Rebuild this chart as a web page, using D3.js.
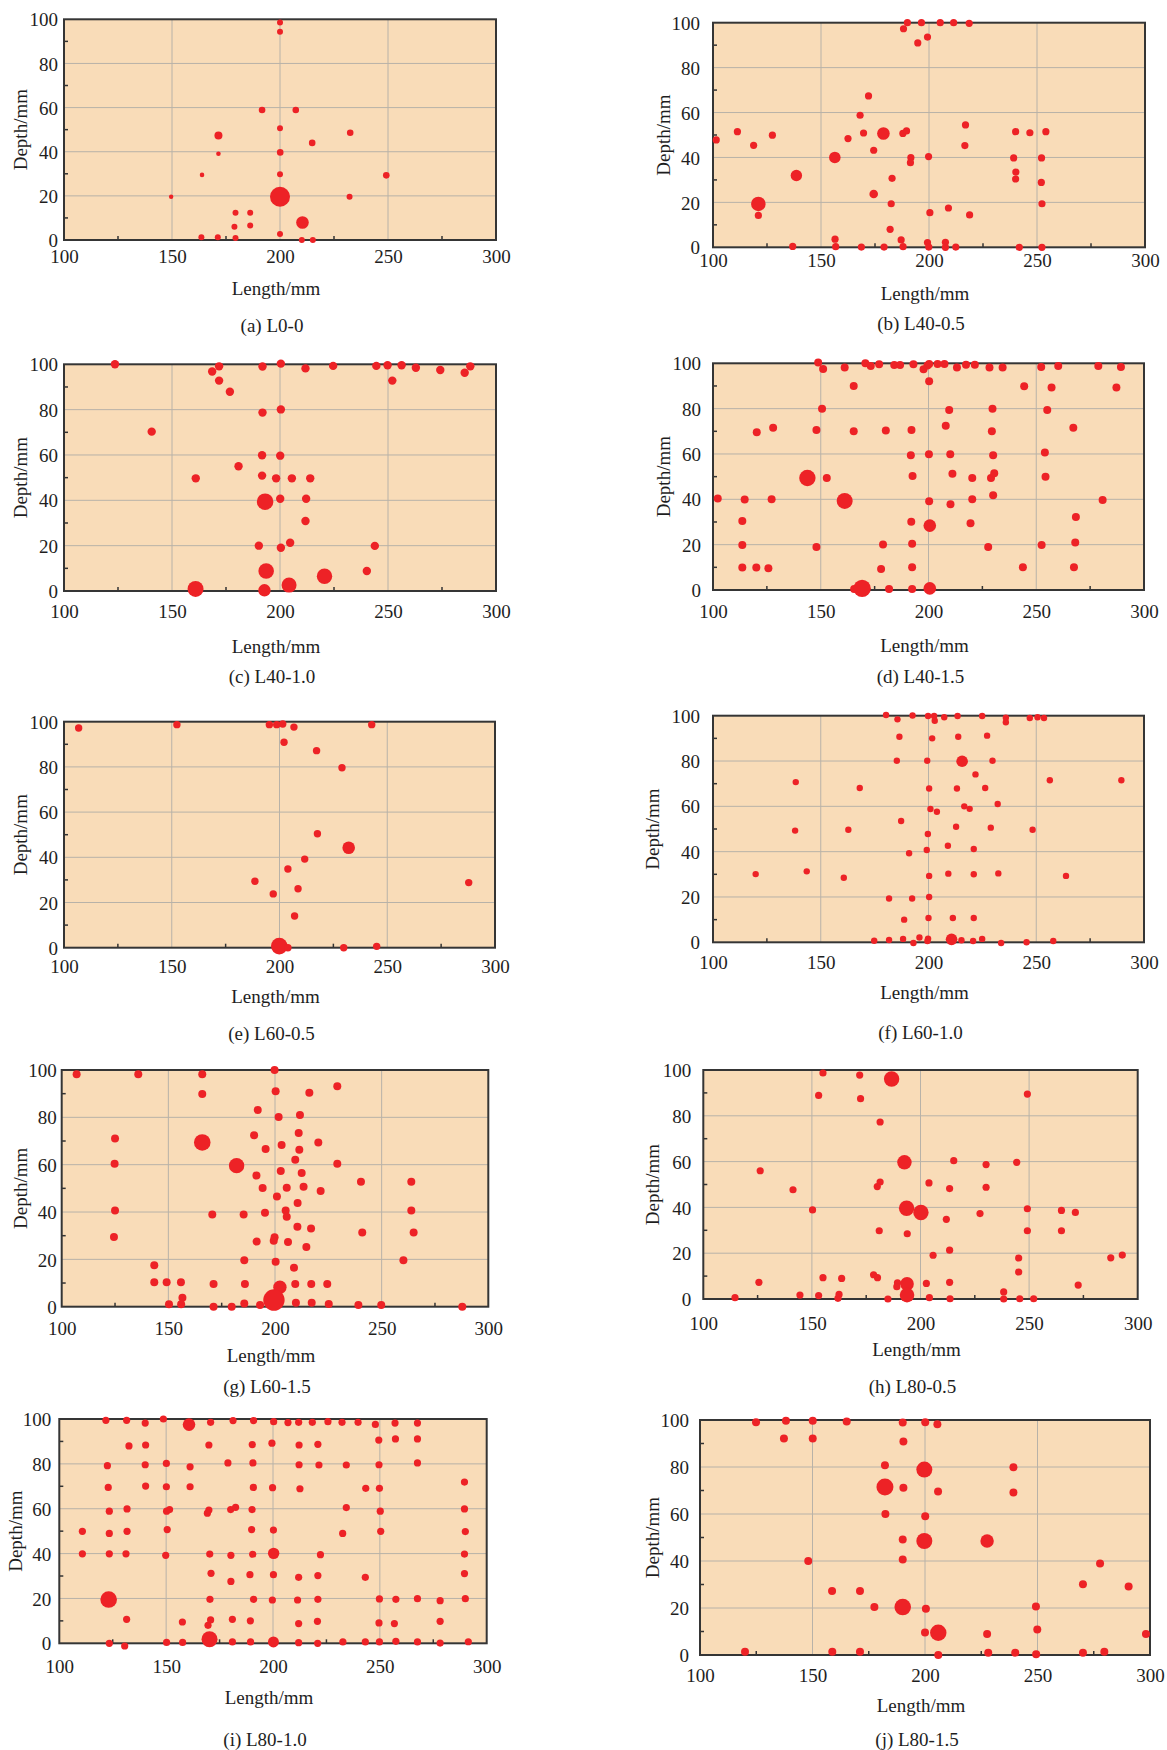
<!DOCTYPE html>
<html>
<head>
<meta charset="utf-8">
<script src="https://cdn.jsdelivr.net/npm/d3@7"></script>
<style>
  body { margin: 0; background: #fff; }
  svg { display: block; }
  text { font-family: "Liberation Serif", "Times New Roman", serif; fill: #1e1e1e; }
</style>
</head>
<body>
<div id="graf"></div>
<script>
const xTicks = [100, 150, 200, 250, 300]
const yTicks = [0, 20, 40, 60, 80, 100]
const xMinor = [125, 175, 225, 275]
const yMinor = [10, 30, 50, 70, 90]
const captions = ["(a) L0-0", "(b) L40-0.5", "(c) L40-1.0", "(d) L40-1.5", "(e) L60-0.5",
  "(f) L60-1.0", "(g) L60-1.5", "(h) L80-0.5", "(i) L80-1.0", "(j) L80-1.5"]

// [length, depth, size] — size omitted = small defect
const ptsA = [[200,98.5],[200,94.4],[191.7,58.9,3.3],[207.3,58.9,3.3],[200,50.6],[171.5,47.4,4],[232.5,48.6,3.3],[214.9,44,3.3],[171.5,39.1,2.3],[200.1,39.7,3.3],[163.9,29.5,2.3],[200,29.8],[249.2,29.3,3.3],[149.6,19.6,2.2],[200,19.6,10],[232.2,19.6],[179.4,12.4],[186.2,12.4],[178.9,6],[186.2,6.6],[210.4,7.9,6.3],[200,2.7],[163.6,1.2],[171.2,1.2],[179.4,0.9],[210.1,0],[215.2,0]]
const ptsB = [[101.5,47.8],[111.3,51.5],[118.8,45.4],[127.5,49.9],[121,19.3,7.3],[121,14.2],[138.6,32,5.7],[136.9,0.4],[156.4,40,5.8],[156.5,3.6],[156.8,0.3],[162.5,48.4],[168.1,58.8],[169.7,50.9],[172,67.4],[168.7,0.1],[178.9,50.7,6.3],[174.4,43.2],[174.4,23.7,4.3],[182.9,30.7],[182.5,19.4],[182,8],[179.2,0.1],[188.2,97.3],[190,100],[194.8,91],[196.5,100],[199.3,93.6],[205.2,100],[211.4,100],[218.6,99.7],[187.9,50.7],[189.6,51.8],[191.6,39.9],[191.4,37.7],[199.8,40.4],[187.1,3.3],[188,0.3],[200.4,15.4],[199.3,2.1],[199.9,0.1],[209,17.5],[207.6,2.2],[207.6,0],[212.4,0.1],[218.8,14.4],[216.9,54.5],[216.6,45.3],[239.2,39.8],[240.1,51.5],[240.2,33.5],[240.1,30.4],[241.8,0],[246.7,51],[252.1,39.8],[252,28.9],[252.3,19.4],[252.3,0],[254.1,51.5]]
const ptsC = [[123.6,100],[168.6,96.8],[171.8,99.1],[171.8,92.8],[176.8,87.9],[140.6,70.3],[161,49.7],[160.9,0.9,8],[180.8,55],[191.9,99],[200.4,100.3],[191.9,78.7],[200.4,80.1],[191.7,59.9],[200.1,59.7],[191.7,50.9],[198.2,49.7],[205.5,49.7],[214,49.7],[193.1,39.4,8.3],[200.1,40.7],[212.1,40.7],[211.8,30.9],[190.2,20],[200.4,19.1],[204.7,21.3],[193.6,8.8,7.8],[192.8,0.3,6.2],[204.2,2.6,7.5],[220.6,6.5,7.7],[211.8,98.2],[224.6,99.3],[244.6,99.3],[249.8,99.6],[256.3,99.6],[262.9,98.5],[274.2,97.5],[285.5,96.3],[288.1,99.1],[252,92.8],[243.9,19.9],[240.2,8.8]]
const ptsD = [[148.8,100.4],[151.1,97.5],[161.1,98.1],[170.7,100],[173.2,98.8],[177.1,99.6],[184.1,99.3],[186.8,99.3],[193,99.6],[197.7,97.4],[199.5,99],[200.3,99.7],[204.2,99.7],[207.4,99.7],[213.2,98.1],[217.4,99.4],[221.5,99.4],[228.3,98.1],[234.4,98.1],[252.3,98.4],[260.2,98.8],[278.8,98.8],[289.3,98.4],
  [165.3,90],[200.3,92.1],[244.4,89.9],[257.1,89.3],[287.2,89.3],
  [150.6,79.9],[209.6,79.4],[229.7,80],[255.1,79.4],
  [120.3,69.6],[127.9,71.6],[148,70.6],[165.3,70],[180.2,70.4],[192.1,70.6],[208,72.4],[229.4,70],[267.2,71.6],
  [191.8,59.4],[200.2,59.9],[210.1,59.9],[230,59.4],[254,60.6],
  [143.8,49.4,8.2],[152.8,49.4],[192.6,50.3],[211.1,51.3],[220.3,49.4],[229,49.4],[230.5,51.5],[254.3,50],
  [102.2,40.4],[114.7,39.9],[127.2,40],[161.1,39.3,8],[200.3,39.1],[210.2,37.8],[220.3,40],[230,41.8],[280.8,39.7],
  [113.6,30.4],[192,30.1],[200.6,28.4,6.3],[219.5,29.4],[268.4,32.2],
  [113.6,19.9],[148,19],[178.9,20.1],[192.4,20.4],[227.7,19],[252.5,19.9],[268.1,21],
  [113.6,9.9],[120.1,9.9],[125.7,9.6],[178,9.3],[192.4,10],[243.8,10],[267.5,10],
  [165.5,0.4],[169.2,0.7,8.7],[181.7,0.4],[192.4,0.4],[200.6,0.7,6.3]]
const ptsE = [[106.8,97.2],[152.4,98.7],[195.3,98.7],[198.7,98.7],[201.5,99],[206.7,97.6],[202.1,90.9],[217.2,87.2],[229,79.6],[242.8,98.7],[217.6,50.4],[232.1,44.2,6.3],[211.7,39.2],[203.9,34.8],[188.6,29.4],[197.1,23.8],[208.6,26.1],[287.8,28.8],[207,14],[199.9,0.7,8.3],[203.9,0],[229.8,0],[245.1,0.6]]
const ptsF = [[180.3,100.3],[185.6,98.4],[192.6,100.1],[199.8,99.9],[202.6,99.9],[202.9,97.8],[207.3,99.3],[213.5,99.9],[224.9,99.9],[235.9,99.1],[235.9,97.1],[247,99],[250.6,99.3],[253.6,99],
  [186.5,90.7],[201.7,90],[213.8,90.7],[227.2,91.2],
  [185.3,80.1],[199.4,80.1],[215.6,79.9,5.8],[229.7,80.1],
  [138.4,70.7],[168.1,68.1],[200.3,67.9],[213.2,67.9],[221.8,74.1],[226.3,68.1],[256.3,71.5],[289.5,71.5],
  [200.9,58.8],[203.9,57.6],[216.6,60],[219.1,58.9],[232.1,61],[187.3,53.5],
  [138.1,49.3],[162.8,49.7],[212.8,51],[228.9,50.6],[248.3,49.7],[199.7,47.8],
  [191,39.3],[199.2,40.7],[209,42.6],[221,41.2],
  [119.8,30.1],[143.5,31.3],[160.7,28.5],[200.3,29.3],[209.2,30.3],[221,30],[232.4,30.4],[263.8,29.3],
  [181.7,19.3],[192.4,19.3],[200.3,20],
  [188.7,10],[200,10.7],[211.3,10.7],[221,10.7],
  [174.8,0.7],[181.7,1],[188.2,1.5],[193,-0.3],[195.8,2.1],[199.5,0.6],[199.8,1.6],[210.7,1.3,5.8],[215.3,0.9],[220.7,0.6],[224.9,1.5],[233.7,-0.3],[245.5,0],[257.9,0.6]]
const ptsG = [[107,98.2],[135.9,98.2],[165.9,98.2],[165.9,89.9],[199.8,100],[200.3,91],[216.1,90.4],[229.2,93.1],[191.9,83.1],[201.7,80.1],[211.7,81],[125,71.1],[165.9,69.4,8.3],[190.2,72.4],[195.6,66.6],[203.1,68.3],[211.1,73.4],[211.4,66.3],[220.3,69.4],[124.8,60.4],[182,59.6,7.7],[209.5,62.1],[229.2,60.4],[191.3,55.4],[202.7,57.3],[212.5,56.5],[194.2,50.1],[205.5,50.3],[213.4,50.7],[221.4,48.9],[240.3,52.8],[263.9,52.8],[200.9,46.6],[210.6,43.8],[125,40.6],[170.6,38.9],[185.3,38.9],[195.3,39.7],[205,40.6],[205.5,38],[263.9,40.6],[124.5,29.4],[210.5,33.8],[216.9,33],[240.9,31.3],[265,31.3],[191.4,27.5],[199.8,29.3],[199.4,27.9],[206.1,27.3],[214.7,25.2],[143.4,17.5],[185.6,19.6],[200.3,19],[208.9,16.5],[260.2,19.6],[143.4,10.3],[149.2,10.3],[155.9,10.3],[171.2,9.6],[185.9,9.6],[209.5,9.6],[217,9.6],[224.5,9.6],[202.3,8.2,6.7],[199.5,2.8,10.7],[156.6,3.8],[150.3,1],[156,1],[171.2,0],[179.7,0],[185.6,1.4],[193,0.7],[209.8,1.7],[217.2,1.7],[225.2,1.1],[239.1,0.7],[249.8,0.7],[287.8,0]]
const ptsH = [[155.1,98.7],[172,97.8],[186.7,96.1,7.7],[153.1,88.9],[172.4,87.5],[249.2,89.5],[181.4,77.3],[192.6,59.7,7.2],[126.2,56],[215.3,60.4],[230.2,58.7],[244.3,59.7],[141.3,47.7],[181.4,51.1],[180.1,49.1],[203.9,50.7],[213.4,48.2],[230.2,48.8],[150.3,38.9],[193.6,39.6,7.7],[200.2,37.8,7.7],[211.9,34.8],[227.4,37.3],[249.2,39.4],[264.9,38.7],[271.3,37.8],[181,29.8],[193.9,28.5],[249.2,29.8],[264.9,29.8],[213.4,21.3],[205.8,19.1],[245.2,17.9],[287.6,18],[292.9,19.2],[245.2,11.8],[125.6,7.3],[155.1,9.3],[163.7,9],[178.4,10.6],[180.2,9.3],[189.4,7.1],[189.1,5.4],[193.8,6.6,6.8],[193.8,1.7,7.3],[202.7,6.8],[213.4,7.3],[272.6,6.1],[114.6,0.6],[144.5,1.7],[153.1,1.5],[162.5,2],[162,0.3],[185,0],[204.1,0.6],[213.6,0.1],[238.3,3.1],[238.3,0],[245.7,0.1],[252.1,0.1]]
const ptsI = [[121.8,99.4],[131.5,99.4],[140.2,98.2],[148.7,100],[160.7,97.5,6.3],[170.8,98.5],[181.3,99.3],[190.9,99.3],[200.3,98.8],[207,98.4],[212,98.5],[218.4,98.5],[225.7,98.8],[232.3,98.5],[239.8,98.5],[247.9,97.6],[257.1,98.2],[267.6,98.2],
  [132.6,88],[140.4,88.4],[170,88.4],[190.3,88.6],[199.5,89.2],[212.2,88.4],[221,88.7],[249.5,90.6],[257.3,91.1],[267.6,91.1],
  [122.5,79.2],[140.2,79.6],[150.1,80.2],[161.2,78.7],[178.9,80.4],[190.6,80.4],[212.2,79.6],[221.5,79.5],[234.3,79.5],[249.6,79.6],[267.6,80.4],
  [122.9,69.5],[140.4,70.1],[150.1,69.8],[161.2,69.8],[190.8,69.5],[199.8,69.4],[212.6,68.9],[243.4,69.1],[249.8,69.1],[289.6,71.9],
  [123.4,58.9],[131.7,59.9],[150.2,58.9],[151.6,59.6],[170,59.4],[169.3,58],[180.2,59.6],[182.5,60.6],[190.2,59.6],[234.3,60.5],[250.2,58.9],[289.6,59.9],
  [110.8,49.9],[123.4,49],[131.7,49.9],[150.5,50.7],[190,50.7],[200.2,50.5],[232.6,49],[250.4,49.9],[290,49.8],
  [110.8,39.9],[123.4,39.9],[131.2,39.9],[149.8,39.2],[170.4,39.8],[180.3,39.2],[190.5,39.7],[200.3,40.1,5.7],[222.2,39.5],[289.6,39.8],
  [171,31.2],[180.3,27.6],[189.2,30.6],[200.2,30.6],[212,29.4],[221,30.2],[243.2,29.4],[289.6,31.1],
  [123.1,19.5,8.3],[170.5,19.6],[190.9,19.6],[199.7,19.3],[211.5,19.3],[221,19.6],[249.8,19.8],[257.5,19.6],[267.6,19.9],[278.2,19],[290,19.9],
  [131.5,10.7],[157.6,9.5],[169.6,8],[170.8,10.4],[181,10.7],[189.4,10],[212,8.8],[220.8,9.8],[249.6,9.1],[256.8,8.8],[278.2,9.8],
  [123.4,0],[130.6,-1.2],[150.2,0.4],[157.7,0.4],[170.3,1.8,8],[181,0.6],[189.5,0.6],[200.2,0.6,5.5],[212,0.3],[220.9,0],[232.7,0.6],[243.2,0.6],[249.8,0.6],[257.5,0.9],[267.6,0.6],[278.2,0.1],[291.4,0.7]]
const ptsJ = [[124.9,99],[138.2,99.7],[150.1,99.7],[165.2,99.4],[190.1,98.9],[200.1,99],[205.5,98.2],[137.3,92.1],[150.1,92.1],[190.4,90.9],[182.2,80.7],[199.7,78.9,8],[239.3,79.9],[182.2,71.5,8.5],[190.4,71.2],[205.8,69.6],[239.3,69.2],[182.4,60],[200.1,59],[190.1,49.1],[199.7,48.5,8],[227.6,48.5,6.7],[148.1,40],[190.1,40.6],[277.8,38.9],[158.7,27.2],[171.1,27.2],[270.2,30.1],[290.5,29.2],[177.5,20.4],[190.1,20.4,8.3],[200.4,19.7],[249.3,20.6],[200,9.6],[205.9,9.5,8.2],[227.6,8.9],[249.9,10.8],[298.2,8.9],[120,1.4],[158.8,1.4],[171.1,1.4],[205.9,0],[228.1,1],[240.1,1],[249.4,0.3],[270.2,1],[279.7,1.4]]

// layout of each sub-figure (pixels)
const paneles = [
  { pts: ptsA, l: 64,    t: 19.3,   r: 496,    b: 240,    tickDy: 16.7, titleY: 288,    capY: 325,    ylabX: 20,    gap: 6,  rs: 3 },
  { pts: ptsB, l: 713,   t: 22.7,   r: 1145,   b: 247.3,  tickDy: 12.7, titleY: 293.3,  capY: 323.3,  ylabX: 663,   gap: 13, rs: 3.6 },
  { pts: ptsC, l: 64,    t: 364.3,  r: 496,    b: 591,    tickDy: 20.7, titleY: 646.7,  capY: 676.7,  ylabX: 20,    gap: 6,  rs: 4.2 },
  { pts: ptsD, l: 713,   t: 363.3,  r: 1144,   b: 590,    tickDy: 21.7, titleY: 645,    capY: 676.7,  ylabX: 663,   gap: 12, rs: 4 },
  { pts: ptsE, l: 64,    t: 721.7,  r: 495,    b: 947.7,  tickDy: 19,   titleY: 996.7,  capY: 1033.3, ylabX: 20,    gap: 6,  rs: 3.7 },
  { pts: ptsF, l: 713,   t: 715.7,  r: 1144,   b: 942.3,  tickDy: 20.4, titleY: 992.7,  capY: 1032.7, ylabX: 652,   gap: 13, rs: 3.2 },
  { pts: ptsG, l: 61.7,  t: 1070,   r: 488.3,  b: 1306.7, tickDy: 21.6, titleY: 1355,   capY: 1386.7, ylabX: 20,    gap: 5,  rs: 4 },
  { pts: ptsH, l: 703.3, t: 1070,   r: 1137.7, b: 1299,   tickDy: 24,   titleY: 1349.3, capY: 1386.7, ylabX: 652,   gap: 12, rs: 3.6 },
  { pts: ptsI, l: 59.3,  t: 1419,   r: 486.7,  b: 1643.3, tickDy: 23.4, titleY: 1697.7, capY: 1739.3, ylabX: 15,    gap: 8,  rs: 3.6 },
  { pts: ptsJ, l: 700,   t: 1420,   r: 1150,   b: 1655,   tickDy: 20,   titleY: 1705,   capY: 1739.3, ylabX: 652,   gap: 11, rs: 4 },
]

const svg = d3.select("#graf")
  .append("svg")
  .attr("width", 1167)
  .attr("height", 1750)

const fs = 19

paneles.forEach((p, i) => {
  const x = d3.scaleLinear().domain([100, 300]).range([p.l, p.r])
  const y = d3.scaleLinear().domain([0, 100]).range([p.b, p.t])
  const g = svg.append("g")

  g.append("rect")
    .attr("x", p.l).attr("y", p.t)
    .attr("width", p.r - p.l).attr("height", p.b - p.t)
    .attr("fill", "#f9dcb8")

  // grid
  g.selectAll(".gx").data(xTicks.slice(1, -1)).join("line")
    .attr("x1", d => x(d)).attr("x2", d => x(d))
    .attr("y1", p.t).attr("y2", p.b)
    .attr("stroke", "#b8b2a8").attr("stroke-width", 1)
  g.selectAll(".gy").data(yTicks.slice(1, -1)).join("line")
    .attr("y1", d => y(d)).attr("y2", d => y(d))
    .attr("x1", p.l).attr("x2", p.r)
    .attr("stroke", "#b8b2a8").attr("stroke-width", 1)

  // minor ticks (inside)
  g.selectAll(".mx").data(xMinor).join("line")
    .attr("x1", d => x(d)).attr("x2", d => x(d))
    .attr("y1", p.b).attr("y2", p.b - 4)
    .attr("stroke", "#333").attr("stroke-width", 1.5)
  g.selectAll(".my").data(yMinor).join("line")
    .attr("y1", d => y(d)).attr("y2", d => y(d))
    .attr("x1", p.l).attr("x2", p.l + 4)
    .attr("stroke", "#333").attr("stroke-width", 1.5)

  g.append("rect")
    .attr("x", p.l).attr("y", p.t)
    .attr("width", p.r - p.l).attr("height", p.b - p.t)
    .attr("fill", "none").attr("stroke", "#353535").attr("stroke-width", 2)

  // axes labels
  const ax = g.append("g")
    .attr("transform", `translate(0, ${p.b})`)
    .call(d3.axisBottom(x).tickValues(xTicks).tickSize(0))
  ax.select(".domain").remove()
  ax.selectAll("text").attr("y", p.tickDy).attr("dy", "0.35em").attr("font-size", fs)

  const ay = g.append("g")
    .attr("transform", `translate(${p.l}, 0)`)
    .call(d3.axisLeft(y).tickValues(yTicks).tickSize(0))
  ay.select(".domain").remove()
  ay.selectAll("text").attr("x", -p.gap).attr("dy", "0.35em").attr("font-size", fs)

  const cx = (p.l + p.r) / 2
  g.append("text")
    .attr("x", cx - 4).attr("y", p.titleY).attr("dy", "0.35em")
    .attr("text-anchor", "middle").attr("font-size", fs)
    .text("Length/mm")
  g.append("text")
    .attr("transform", `translate(${p.ylabX}, ${(p.t + p.b) / 2}) rotate(-90)`)
    .attr("dy", "0.35em")
    .attr("text-anchor", "middle").attr("font-size", fs)
    .text("Depth/mm")
  g.append("text")
    .attr("x", cx - 8).attr("y", p.capY).attr("dy", "0.35em")
    .attr("text-anchor", "middle").attr("font-size", fs)
    .text(captions[i])

  g.selectAll("circle").data(p.pts).join("circle")
    .attr("cx", d => x(d[0]))
    .attr("cy", d => y(d[1]))
    .attr("r", d => d[2] ?? p.rs)
    .attr("fill", "#ed2226")
})
</script>
</body>
</html>
